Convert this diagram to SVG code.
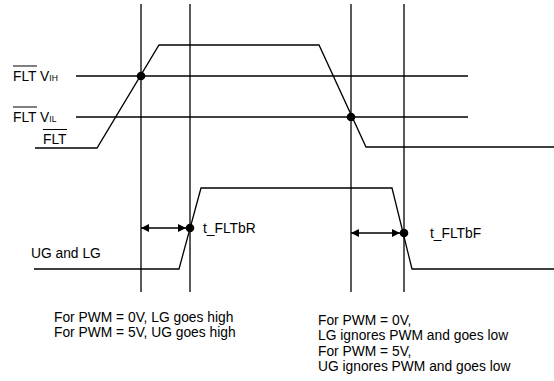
<svg xmlns="http://www.w3.org/2000/svg" width="554" height="381" viewBox="0 0 554 381">
<defs>
<marker id="ah" viewBox="0 0 10 10" refX="10" refY="5" markerWidth="8" markerHeight="8" markerUnits="userSpaceOnUse" orient="auto-start-reverse">
<path d="M0,0 L10,5 L0,10 z" fill="#000"/>
</marker>
</defs>
<style>
.ln{stroke:#000;stroke-width:1.3;fill:none}
.tx{font-family:"Liberation Sans",Arial,sans-serif;font-size:13.8px;fill:#000}
.sub{font-size:8.5px}
.ov{stroke:#000;stroke-width:1}
</style>
<g id="grid" class="ln">
<line x1="141" y1="4" x2="141" y2="292"/>
<line x1="190" y1="4" x2="190" y2="292"/>
<line x1="351" y1="4" x2="351" y2="292"/>
<line x1="404" y1="4" x2="404" y2="292"/>
<line x1="76" y1="76" x2="468" y2="76"/>
<line x1="76" y1="117" x2="468" y2="117"/>
</g>
<g id="flt-wave">
<path class="ln" d="M35,148 L97,148 L159,45 L319,45 L366,147 L554,147"/>
<circle cx="141" cy="76" r="4.3"/>
<circle cx="351" cy="117" r="4.3"/>
</g>
<g id="ug-wave">
<path class="ln" d="M34,269 L179,269 L201,188 L392,188 L412,269 L554,269"/>
<circle cx="190" cy="228" r="4.3"/>
<circle cx="404" cy="233" r="4.3"/>
</g>
<g id="connectors">
<line class="ln" x1="141" y1="228" x2="186" y2="228" marker-start="url(#ah)" marker-end="url(#ah)" stroke-width="1"/>
<line class="ln" x1="351" y1="233" x2="400" y2="233" marker-start="url(#ah)" marker-end="url(#ah)" stroke-width="1"/>
</g>
<g id="labels">
<text class="tx" x="13" y="81">FLT V<tspan class="sub">IH</tspan></text>
<line class="ov" x1="13" y1="66" x2="37" y2="66"/>
<text class="tx" x="13" y="122">FLT V<tspan class="sub">IL</tspan></text>
<line class="ov" x1="13" y1="107" x2="37" y2="107"/>
<text class="tx" x="43" y="144">FLT</text>
<line class="ov" x1="43" y1="129.5" x2="67" y2="129.5"/>
<text class="tx" x="31" y="258">UG and LG</text>
<text class="tx" x="203" y="233">t_FLTbR</text>
<text class="tx" x="430" y="238">t_FLTbF</text>
<text class="tx" x="54" y="322">For PWM = 0V, LG goes high</text>
<text class="tx" x="54" y="337">For PWM = 5V, UG goes high</text>
<text class="tx" x="318" y="325">For PWM = 0V,</text>
<text class="tx" x="318" y="340">LG ignores PWM and goes low</text>
<text class="tx" x="318" y="356">For PWM = 5V,</text>
<text class="tx" x="318" y="371">UG ignores PWM and goes low</text>
</g>
</svg>
